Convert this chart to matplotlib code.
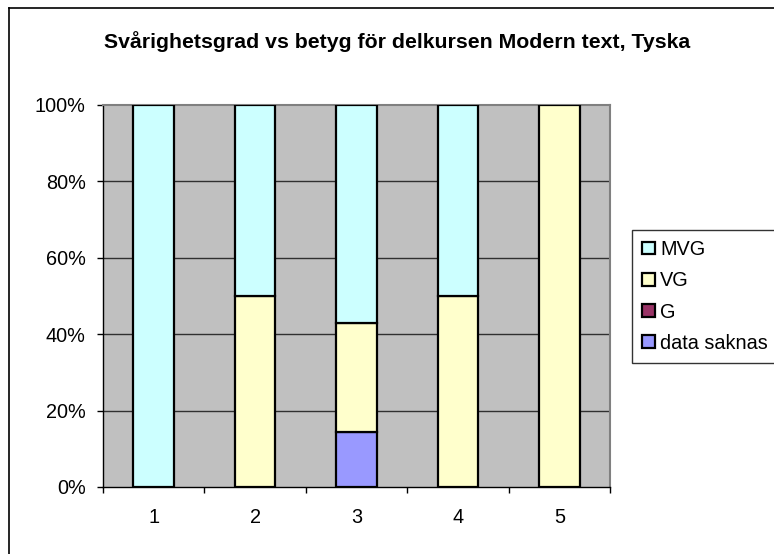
import matplotlib
matplotlib.use("Agg")
import matplotlib.pyplot as plt
from matplotlib.patches import Patch
import numpy as np

plt.rcParams['font.family'] = ['Liberation Sans', 'DejaVu Sans']

categories = ["1", "2", "3", "4", "5"]
data_saknas = [0.0, 0.0, 14.29, 0.0, 0.0]
g_vals = [0.0, 0.0, 0.0, 0.0, 0.0]
vg_vals = [0.0, 50.0, 28.57, 50.0, 100.0]
mvg_vals = [100.0, 50.0, 57.14, 50.0, 0.0]
y_ticks = [0, 20, 40, 60, 80, 100]
y_tick_labels = ["0%", "20%", "40%", "60%", "80%", "100%"]
title = "Svårighetsgrad vs betyg för delkursen Modern text, Tyska"

series = [
    ("data saknas", data_saknas, "#9999FF"),
    ("G", g_vals, "#993366"),
    ("VG", vg_vals, "#FFFFCC"),
    ("MVG", mvg_vals, "#CCFFFF"),
]

W, H = 774, 554
fig = plt.figure(figsize=(W / 100, H / 100), dpi=100)
fig.patch.set_facecolor("white")

# outer chart border (left and top visible)
fig.add_artist(plt.Line2D([9 / W, 9 / W], [0, 1 - 8 / H], transform=fig.transFigure,
                          color="black", lw=1.2))
fig.add_artist(plt.Line2D([9 / W, 1], [1 - 8 / H, 1 - 8 / H], transform=fig.transFigure,
                          color="black", lw=1.2))

left, right, top, bottom = 103, 610, 105, 487
ax = fig.add_axes([left / W, 1 - bottom / H, (right - left) / W, (bottom - top) / H])
ax.set_facecolor("#C0C0C0")

x = np.arange(1, len(categories) + 1)
for yv in [20, 40, 60, 80]:
    ax.axhline(yv, color="#303030", lw=1.0, zorder=1)

bottoms = np.zeros(len(categories))
for name, vals, col in series:
    vals = np.array(vals)
    mask = vals > 0
    ax.bar(x[mask], vals[mask], bottom=bottoms[mask], width=0.40, color=col,
           edgecolor="black", linewidth=1.6, zorder=3)
    bottoms = bottoms + vals

ax.set_xlim(0.5, len(categories) + 0.5)
ax.set_ylim(0, 100)
ax.set_yticks(y_ticks)
ax.set_yticklabels(y_tick_labels, fontsize=14.3)
ax.set_xticks(np.arange(0.5, len(categories) + 1, 1.0))
ax.set_xticklabels([])
ax.set_xticks(x, minor=True)
ax.set_xticklabels(categories, minor=True, fontsize=14.3)
ax.tick_params(axis="x", which="major", direction="out", length=4.5, width=1, color="black")
ax.tick_params(axis="x", which="minor", length=0, pad=15)
ax.tick_params(axis="y", direction="out", length=4.5, width=1, color="black", pad=8)

for s in ["top", "right"]:
    ax.spines[s].set_color("#808080")
    ax.spines[s].set_linewidth(1.5)
for s in ["left", "bottom"]:
    ax.spines[s].set_color("black")
    ax.spines[s].set_linewidth(1.0)
ax.spines["bottom"].set_zorder(4)

fig.text(397 / W, 1 - 42 / H, title, ha="center", va="center", fontsize=15.3,
         fontweight="bold")

# legend
handles = [Patch(facecolor=col, edgecolor="black", linewidth=1.6, label=name)
           for name, vals, col in series[::-1]]
leg = fig.legend(handles=handles, loc="upper left",
                 bbox_to_anchor=(632 / W, 1 - 230 / H), fontsize=14.3,
                 frameon=True, fancybox=False, handlelength=0.68, handleheight=0.62,
                 handletextpad=0.25, labelspacing=0.62, borderpad=0.5, borderaxespad=0,
                 edgecolor="black")
leg.get_frame().set_linewidth(1.0)
leg.get_frame().set_edgecolor("#000000")

fig.savefig("out.png", dpi=100)
